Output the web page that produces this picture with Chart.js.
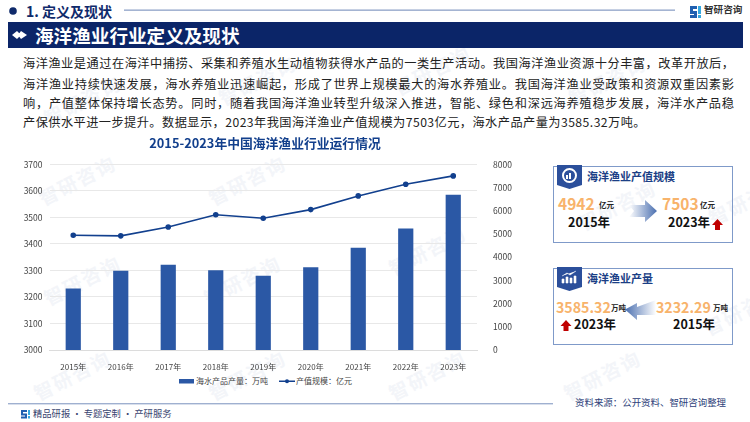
<!DOCTYPE html>
<html lang="zh">
<head>
<meta charset="utf-8">
<title>海洋渔业行业定义及现状</title>
<script src="https://cdn.jsdelivr.net/npm/chart.js@4/dist/chart.umd.min.js"></script>
<style>
  html, body { margin: 0; padding: 0; background: #fff; }
  body { width: 750px; height: 422px; position: relative; overflow: hidden;
         font-family: "Noto Sans CJK SC", "Noto Sans", sans-serif; }
  .abs { position: absolute; white-space: nowrap; line-height: 1; }
  .mark { position: absolute; color: #f3f5f9; font-size: 19px; font-weight: 700; letter-spacing: 2px;
          transform: rotate(-27deg); white-space: nowrap; line-height: 1; }
  .para { position: absolute; left: 23px; width: 711px; font-size: 12.2px; line-height: 1; color: #222;
          text-align: justify; text-align-last: justify; white-space: nowrap; }
  .panel { position: absolute; left: 553px; width: 178px; height: 75px; border: 1px solid #7f9ac9; box-sizing: content-box; }
  .ptitle { color: #1b3f86; font-size: 11px; font-weight: 700; }
  .num { color: #f8b36b; font-size: 15.5px; font-weight: 700; }
  .num.small { font-size: 14.2px; }
  .unit { color: #222; font-size: 7.5px; font-weight: 700; }
  .year { color: #111; font-size: 12.5px; font-weight: 700; }
  .leg { color: #444; font-size: 8px; }
  #chartBox { position: absolute; left: 0; top: 135px; width: 530px; height: 236px; }
</style>
</head>
<body>
<div id="marks"></div>

<!-- top header -->
<svg class="abs" style="left:0;top:0" width="750" height="50">
  <circle cx="13" cy="11" r="3.8" fill="#0f2a6b"/>
  <rect x="124" y="9.5" width="551" height="1.3" fill="#8ea2c8"/>
  <rect x="8" y="22" width="735" height="26" fill="#0b2568"/>
  <path d="M12 35l5-4 4 4-4 4z M21 31l6 4-6 4 -3-4z" fill="#fff"/>
  <path d="M690 6h7v3h-4v2h4v7h-7v-3h4v-1h-4z" fill="#1f5fb0"/>
  <path d="M698 6h3v8h-3z M698 15h3v3h-3z" fill="#35a8e0"/>
</svg>
<div class="abs" style="left:26px;top:4px;font-size:14px;font-weight:700;color:#0f2a6b">1. 定义及现状</div>
<div class="abs" style="left:704px;top:5px;font-size:9.6px;font-weight:700;color:#333">智研咨询</div>
<div class="abs" style="left:35px;top:26px;font-size:18.6px;font-weight:700;color:#fff">海洋渔业行业定义及现状</div>

<!-- paragraph -->
<div class="para" style="top:57px">海洋渔业是通过在海洋中捕捞、采集和养殖水生动植物获得水产品的一类生产活动。我国海洋渔业资源十分丰富，改革开放后，</div>
<div class="para" style="top:78px">海洋渔业持续快速发展，海水养殖业迅速崛起，形成了世界上规模最大的海水养殖业。我国海洋渔业受政策和资源双重因素影</div>
<div class="para" style="top:97px">响，产值整体保持增长态势。同时，随着我国海洋渔业转型升级深入推进，智能、绿色和深远海养殖稳步发展，海洋水产品稳</div>
<div class="para" style="top:116px;width:auto;text-align-last:left;letter-spacing:.45px">产保供水平进一步提升。数据显示，2023年我国海洋渔业产值规模为7503亿元，海水产品产量为3585.32万吨。</div>

<!-- chart -->
<div id="chartBox"><canvas id="fisheryChart"></canvas></div>

<!-- legend -->
<svg class="abs" style="left:175px;top:375px" width="125" height="12">
  <rect x="4" y="4" width="15" height="4.5" fill="#2b58a5"/>
  <rect x="104" y="5.5" width="16" height="1.5" fill="#12408e"/>
  <circle cx="112" cy="6.2" r="2" fill="#12408e"/>
</svg>
<div class="abs leg" style="left:196px;top:377px">海水产品产量：万吨</div>
<div class="abs leg" style="left:296px;top:377px">产值规模：亿元</div>

<!-- panel: output value -->
<div class="panel" style="top:166px"></div>
<svg class="abs" style="left:553px;top:165px" width="180" height="80">
  <path d="M4 0h25v20l-12.5 4L4 20z" fill="#2b4f9b"/>
  <circle cx="16.5" cy="10.5" r="6.5" fill="none" stroke="#fff" stroke-width="2"/>
  <rect x="13" y="10" width="2" height="4" fill="#fff"/><rect x="16" y="8" width="2" height="6" fill="#fff"/>
  <defs><linearGradient id="gr" x1="0" x2="1"><stop offset="0" stop-color="#fff"/><stop offset="1" stop-color="#4a6fb0"/></linearGradient>
  <linearGradient id="gl" x1="1" x2="0"><stop offset="0" stop-color="#fff"/><stop offset="1" stop-color="#4a6fb0"/></linearGradient></defs>
  <path d="M76 40h16v-5l12 11-12 11v-5H76l5-6z" fill="url(#gr)"/>
  <path d="M164.500 54l5.500 6h-3v5h-5v-5h-3z" fill="#c00000"/>
</svg>
<div class="abs ptitle" style="left:587px;top:171px">海洋渔业产值规模</div>
<div class="abs num" style="left:558px;top:196px">4942</div>
<div class="abs unit" style="left:599px;top:201px">亿元</div>
<div class="abs year" style="left:568px;top:216px">2015年</div>
<div class="abs num" style="left:662px;top:196px">7503</div>
<div class="abs unit" style="left:700px;top:201px">亿元</div>
<div class="abs year" style="left:668px;top:216px">2023年</div>

<!-- panel: output volume -->
<div class="panel" style="top:268px"></div>
<svg class="abs" style="left:553px;top:267px" width="180" height="80">
  <path d="M4 0h25v20l-12.500 4L4 20z" fill="#2b4f9b"/>
  <path d="M9 16v-4h2v4z M13 16v-6h2v6z M17 16v-5h2v5z M21 16v-7h2v7z M9 9l5-3 3 2 6-4" fill="#fff" stroke="#fff" stroke-width=".6"/>
  <path d="M103 33v15H84v5L72 42.500 84 36v4z" fill="url(#gl)"/>
  <path d="M13 53l5.500 6h-3v5h-5v-5h-3z" fill="#c00000"/>
</svg>
<div class="abs ptitle" style="left:587px;top:273px">海洋渔业产量</div>
<div class="abs num small" style="left:556px;top:300px">3585.32</div>
<div class="abs unit" style="left:611px;top:304px">万吨</div>
<div class="abs year" style="left:574px;top:318px">2023年</div>
<div class="abs num small" style="left:656px;top:300px">3232.29</div>
<div class="abs unit" style="left:713px;top:304px">万吨</div>
<div class="abs year" style="left:673px;top:318px">2015年</div>

<!-- footer -->
<svg class="abs" style="left:0;top:400px" width="750" height="22">
  <rect x="8" y="3" width="545" height="1.4" fill="#9fb0d0"/>
  <path d="M21 10h6v2h-4v1.500h4v5h-6v-2h4v-1h-4z" fill="#1f5fb0"/>
  <path d="M28 10h2v5h-2z M28 16h2v2.500h-2z" fill="#35a8e0"/>
</svg>
<div class="abs" style="left:33px;top:409px;font-size:9.3px;color:#3a4570">精品研报 · 专题定制 · 产研服务</div>
<div class="abs" style="left:575px;top:398px;font-size:9.45px;color:#2e3f7a">资料来源：公开资料、智研咨询整理</div>

<script>
// Chart data
const years = ['2015年', '2016年', '2017年', '2018年', '2019年', '2020年', '2021年', '2022年', '2023年'];
const seafoodOutput = [3232.29, 3299, 3321, 3301, 3280, 3312, 3386, 3458, 3585.32];
const outputValue = [4942, 4920, 5300, 5830, 5680, 6050, 6640, 7140, 7503];

// Watermark positions (page decoration)
const markSpots = [[40, 90], [215, 70], [390, 60], [565, 70], [35, 170], [205, 170], [385, 240], [575, 195],
                   [30, 365], [205, 365], [385, 365], [560, 365], [700, 300], [705, 190], [200, 270], [40, 270]];
const marks = document.getElementById('marks');
markSpots.forEach(([x, y]) => {
    const el = document.createElement('div');
    el.className = 'mark';
    el.style.left = x + 'px';
    el.style.top = y + 'px';
    el.textContent = '智研咨询';
    marks.appendChild(el);
});

const tickFont = { family: '"Noto Sans CJK SC", "Noto Sans", sans-serif', size: 8.5 };
const plainTick = (value) => String(value);

new Chart(document.getElementById('fisheryChart'), {
    data: {
        labels: years,
        datasets: [
            {
                type: 'line',
                label: '产值规模：亿元',
                data: outputValue,
                yAxisID: 'y1',
                order: 0,
                borderColor: '#12408e',
                backgroundColor: '#12408e',
                borderWidth: 1.6,
                pointRadius: 2,
                tension: 0
            },
            {
                type: 'bar',
                label: '海水产品产量：万吨',
                data: seafoodOutput,
                yAxisID: 'y',
                order: 1,
                backgroundColor: '#2b58a5',
                categoryPercentage: 1,
                barPercentage: 0.32
            }
        ]
    },
    options: {
        responsive: true,
        maintainAspectRatio: false,
        animation: false,
        layout: { padding: 0 },
        plugins: {
            legend: { display: false },
            tooltip: { enabled: false },
            title: {
                display: true,
                text: '2015-2023年中国海洋渔业行业运行情况',
                color: '#123f8c',
                font: { family: tickFont.family, size: 12.8, weight: 'bold' },
                padding: { top: 0, bottom: 14 }
            }
        },
        scales: {
            x: {
                grid: { display: false },
                border: { color: '#dcdcdc' },
                ticks: { color: '#444', font: { family: tickFont.family, size: 8 }, padding: 4, maxRotation: 0 },
                afterFit: (axis) => { axis.height = 21; }
            },
            y: {
                position: 'left',
                min: 3000,
                max: 3700,
                ticks: { stepSize: 100, color: '#444', font: tickFont, padding: 7, callback: plainTick },
                grid: { color: '#e8e8e8', drawTicks: false },
                border: { display: false },
                afterFit: (axis) => { axis.width = 49.5; }
            },
            y1: {
                position: 'right',
                min: 0,
                max: 8000,
                ticks: { stepSize: 1000, color: '#444', font: tickFont, padding: 8, callback: plainTick },
                grid: { display: false },
                border: { display: false },
                afterFit: (axis) => { axis.width = 53; }
            }
        }
    }
});
</script>
</body>
</html>
